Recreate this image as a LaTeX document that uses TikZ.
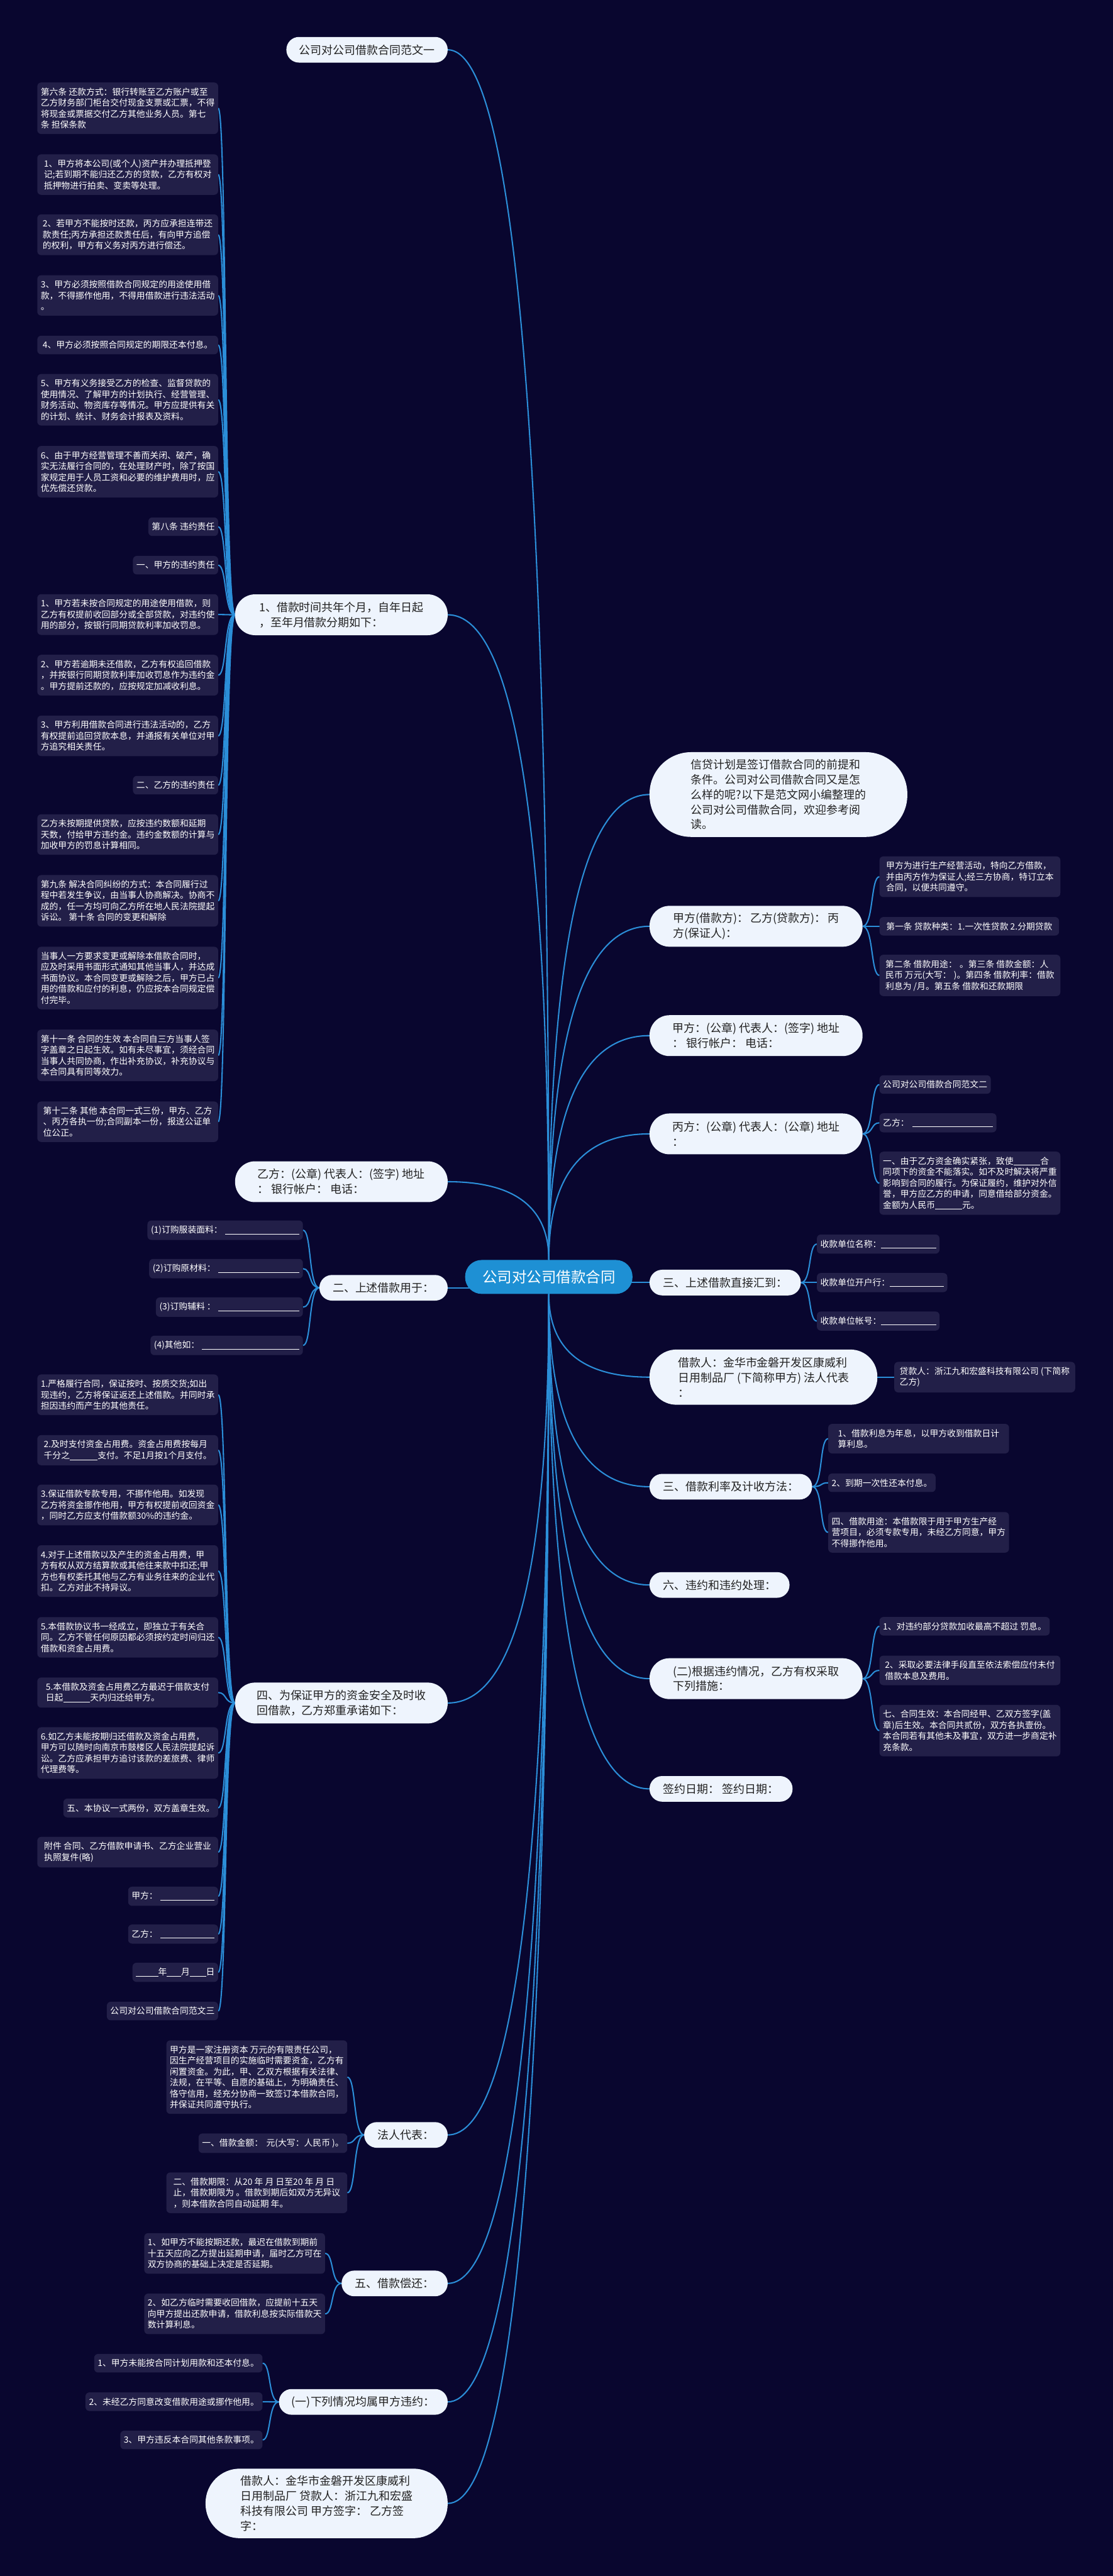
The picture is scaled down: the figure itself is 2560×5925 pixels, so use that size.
\documentclass[tikz,border=0pt]{standalone}
\usepackage{fontspec}
\setmainfont{Noto Sans CJK SC}
\usetikzlibrary{calc}
\pgfdeclarelayer{bg}
\pgfsetlayers{bg,main}
\definecolor{bgc}{RGB}{9,6,47}
\definecolor{leaff}{RGB}{34,31,72}
\definecolor{brf}{RGB}{238,244,253}
\definecolor{hubf}{RGB}{30,144,212}
\definecolor{linec}{RGB}{43,142,216}
\definecolor{brtext}{RGB}{34,34,34}
\newcommand\myblank[1]{\rule[-3pt]{#1pt}{1.4pt}}
\newcommand\hubconn[2]{\draw[conn] (#1) .. controls ($(#1)!0.667!(#1 |- #2)$) and ($(#2)!0.667!(#1 |- #2)$) .. (#2);}
\newcommand\lconn[2]{\draw[conn] (#1.west) .. controls +(-25,0) and +(20,0) .. (#2.east);}
\newcommand\rconn[2]{\draw[conn] (#1.east) .. controls +(25,0) and +(-20,0) .. (#2.west);}
\tikzset{
  leaf/.style={fill=leaff, rounded corners=9pt, text=white, font=\fontsize{20}{25.3}\selectfont, inner xsep=8pt, inner ysep=12pt, align=left},
  lw/.style={minimum width=416pt},
  br/.style={fill=brf, text=brtext, font=\fontsize{26}{34.5}\selectfont, inner xsep=20pt, inner ysep=16pt, align=left},
  bA/.style={br, rounded corners=29pt, minimum height=59pt},
  bB/.style={br, rounded corners=46pt, minimum height=94pt},
  bC/.style={br, rounded corners=62pt, minimum height=127pt},
  bD/.style={br, rounded corners=79pt, minimum height=160pt},
  bE/.style={br, rounded corners=96pt, minimum height=195pt},
  hub/.style={fill=hubf, text=white, font=\fontsize{34}{40}\selectfont, minimum width=385pt, minimum height=78pt, rounded corners=38pt, inner sep=0pt},
  conn/.style={draw=linec, line width=3pt},
}
\begin{document}
\begin{tikzpicture}[x=1pt,y=-1pt]
\useasboundingbox (0,0) rectangle (2560,5925);
% center
\node[hub] (c) at (1262.5,2937) {公司对公司借款合同};
% left branches
\node[bA, minimum width=371pt, anchor=east] (T) at (1030,114.5) {公司对公司借款合同范文一};
\node[bB, minimum width=489pt, anchor=east] (B1) at (1030,1414) {1、借款时间共年个月，自年日起\\，至年月借款分期如下：};
\node[bB, minimum width=489pt, anchor=east] (B2) at (1030,2718) {乙方：(公章) 代表人：(签字) 地址\\： 银行帐户： 电话：};
\node[bA, minimum width=295pt, anchor=east] (B3) at (1030,2962) {二、上述借款用于：};
\node[bB, minimum width=489pt, anchor=east] (B4) at (1030,3917) {四、为保证甲方的资金安全及时收\\回借款，乙方郑重承诺如下：};
\node[bA, minimum width=192pt, anchor=east] (B5) at (1030,4910.5) {法人代表：};
\node[bA, minimum width=244pt, anchor=east] (B6) at (1030,5252) {五、借款偿还：};
\node[bA, minimum width=388pt, anchor=east] (B7) at (1030,5524.5) {(一)下列情况均属甲方违约：};
\node[bD, minimum width=557pt, anchor=east] (B8) at (1030,5758) {借款人：金华市金磐开发区康威利\\日用制品厂 贷款人：浙江九和宏盛\\科技有限公司 甲方签字： 乙方签\\字：};
% right branches
\node[bE, minimum width=593pt, anchor=west] (R1) at (1494,1827.5) {信贷计划是签订借款合同的前提和\\条件。公司对公司借款合同又是怎\\么样的呢?以下是范文网小编整理的\\公司对公司借款合同，欢迎参考阅\\读。};
\node[bB, minimum width=490pt, anchor=west] (R2) at (1494,2130.5) {甲方(借款方)：\hspace{4pt}乙方(贷款方)：\hspace{4pt}丙\\方(保证人)：};
\node[bB, minimum width=490pt, anchor=west] (R3) at (1494,2382) {甲方：(公章) 代表人：(签字) 地址\\： 银行帐户： 电话：};
\node[bB, minimum width=490pt, anchor=west] (R4) at (1494,2608) {丙方：(公章) 代表人：(公章) 地址\\：};
\node[bA, minimum width=348pt, anchor=west] (R5) at (1494,2950) {三、上述借款直接汇到：};
\node[bC, minimum width=524pt, anchor=west] (R6) at (1494,3167.5) {借款人：金华市金磐开发区康威利\\日用制品厂 (下简称甲方) 法人代表\\：};
\node[bA, minimum width=374pt, anchor=west] (R7) at (1494,3419.5) {三、借款利率及计收方法：};
\node[bA, minimum width=322pt, anchor=west] (R8) at (1494,3645.5) {六、违约和违约处理：};
\node[bB, minimum width=490pt, anchor=west] (R9) at (1494,3861) {(二)根据违约情况，乙方有权采取\\下列措施：};
\node[bA, minimum width=329pt, anchor=west] (R10) at (1494,4114.5) {签约日期：\hspace{6pt}签约日期：};
% leaves of B1
\begin{scope}[every node/.style={leaf, anchor=east}]
\node[lw] (L1) at (502,249) {第六条 还款方式：银行转账至乙方账户或至\\乙方财务部门柜台交付现金支票或汇票，不得\\将现金或票据交付乙方其他业务人员。第七\\条 担保条款};
\node[lw] (L2) at (502,401.5) {1、甲方将本公司(或个人)资产并办理抵押登\\记;若到期不能归还乙方的贷款，乙方有权对\\抵押物进行拍卖、变卖等处理。};
\node[lw] (L3) at (502,540) {2、若甲方不能按时还款，丙方应承担连带还\\款责任;丙方承担还款责任后，有向甲方追偿\\的权利，甲方有义务对丙方进行偿还。};
\node[lw] (L4) at (502,679.5) {3、甲方必须按照借款合同规定的用途使用借\\款，不得挪作他用，不得用借款进行违法活动\\。};
\node[lw] (L5) at (502,793.5) {4、甲方必须按照合同规定的期限还本付息。};
\node[lw] (L6) at (502,919.5) {5、甲方有义务接受乙方的检查、监督贷款的\\使用情况、了解甲方的计划执行、经营管理、\\财务活动、物资库存等情况。甲方应提供有关\\的计划、统计、财务会计报表及资料。};
\node[lw] (L7) at (502,1085) {6、由于甲方经营管理不善而关闭、破产，确\\实无法履行合同的，在处理财产时，除了按国\\家规定用于人员工资和必要的维护费用时，应\\优先偿还贷款。};
\node (L8) at (502,1211.5) {第八条 违约责任};
\node (L9) at (502,1300) {一、甲方的违约责任};
\node[lw] (L10) at (502,1413.5) {1、甲方若未按合同规定的用途使用借款，则\\乙方有权提前收回部分或全部贷款，对违约使\\用的部分，按银行同期贷款利率加收罚息。};
\node[lw] (L11) at (502,1553) {2、甲方若逾期未还借款，乙方有权追回借款\\，并按银行同期贷款利率加收罚息作为违约金\\。甲方提前还款的，应按规定加减收利息。};
\node[lw] (L12) at (502,1692.5) {3、甲方利用借款合同进行违法活动的，乙方\\有权提前追回贷款本息，并通报有关单位对甲\\方追究相关责任。};
\node (L13) at (502,1806) {二、乙方的违约责任};
\node[lw] (L14) at (502,1919.5) {乙方未按期提供贷款，应按违约数额和延期\\天数，付给甲方违约金。违约金数额的计算与\\加收甲方的罚息计算相同。};
\node[lw] (L15) at (502,2072) {第九条 解决合同纠纷的方式：本合同履行过\\程中若发生争议，由当事人协商解决。协商不\\成的，任一方均可向乙方所在地人民法院提起\\诉讼。 第十条 合同的变更和解除};
\node[lw] (L16) at (502,2249.5) {当事人一方要求变更或解除本借款合同时，\\应及时采用书面形式通知其他当事人，并达成\\书面协议。本合同变更或解除之后，甲方已占\\用的借款和应付的利息，仍应按本合同规定偿\\付完毕。};
\node[lw] (L17) at (502,2427.5) {第十一条 合同的生效 本合同自三方当事人签\\字盖章之日起生效。如有未尽事宜，须经合同\\当事人共同协商，作出补充协议，补充协议与\\本合同具有同等效力。};
\node[lw] (L18) at (502,2580) {第十二条 其他 本合同一式三份，甲方、乙方\\、丙方各执一份;合同副本一份，报送公证单\\位公正。};
% B3 leaves
\node (K1) at (697,2829.5) {(1)订购服装面料：\hspace{6pt}\myblank{171}};
\node (K2) at (697,2918) {(2)订购原材料：\hspace{6pt}\myblank{187}};
\node (K3) at (697,3006.5) {(3)订购辅料 ：\hspace{6pt}\myblank{187}};
\node (K4) at (697,3094.5) {(4)其他如：\hspace{6pt}\myblank{224}};
% B4 leaves
\node[lw] (M1) at (502,3208) {1.严格履行合同，保证按时、按质交货;如出\\现违约，乙方将保证返还上述借款。并同时承\\担因违约而产生的其他责任。};
\node[lw] (M2) at (502,3335.5) {2.及时支付资金占用费。资金占用费按每月\\千分之\myblank{64}支付。不足1月按1个月支付。};
\node[lw] (M3) at (502,3461.5) {3.保证借款专款专用，不挪作他用。如发现\\乙方将资金挪作他用，甲方有权提前收回资金\\，同时乙方应支付借款额30\%的违约金。};
\node[lw] (M4) at (502,3613.5) {4.对于上述借款以及产生的资金占用费，甲\\方有权从双方结算款或其他往来款中扣还;甲\\方也有权委托其他与乙方有业务往来的企业代\\扣。乙方对此不持异议。};
\node[lw] (M5) at (502,3766) {5.本借款协议书一经成立，即独立于有关合\\同。乙方不管任何原因都必须按约定时间归还\\借款和资金占用费。};
\node[lw] (M6) at (502,3893) {5.本借款及资金占用费乙方最迟于借款支付\\日起\myblank{62}天内归还给甲方。};
\node[lw] (M7) at (502,4032) {6.如乙方未能按期归还借款及资金占用费，\\甲方可以随时向南京市鼓楼区人民法院提起诉\\讼。乙方应承担甲方追讨该款的差旅费、律师\\代理费等。};
\node (M8) at (502,4158.5) {五、本协议一式两份，双方盖章生效。};
\node[lw] (M9) at (502,4260) {附件 合同、乙方借款申请书、乙方企业营业\\执照复件(略)};
\node (M10) at (502,4361.5) {甲方：\hspace{6pt}\myblank{125}};
\node (M11) at (502,4448.5) {乙方：\hspace{6pt}\myblank{125}};
\node (M12) at (502,4536.5) {\myblank{51}年\myblank{33}月\myblank{37}日};
\node (M13) at (502,4625.5) {公司对公司借款合同范文三};
% B5 leaves
\node[lw] (N1) at (799,4777.5) {甲方是一家注册资本 万元的有限责任公司，\\因生产经营项目的实施临时需要资金，乙方有\\闲置资金。为此，甲、乙双方根据有关法律、\\法规，在平等、自愿的基础上，为明确责任、\\恪守信用，经充分协商一致签订本借款合同，\\并保证共同遵守执行。};
\node (N2) at (799,4929.5) {一、借款金额：\hspace{8pt}元(大写：人民币 )。};
\node[lw] (N3) at (799,5043.5) {二、借款期限：从20 年 月 日至20 年 月 日\\止，借款期限为 。借款到期后如双方无异议\\，则本借款合同自动延期 年。};
% B6 leaves
\node[lw] (P1) at (748,5183) {1、如甲方不能按期还款，最迟在借款到期前\\十五天应向乙方提出延期申请，届时乙方可在\\双方协商的基础上决定是否延期。};
\node[lw] (P2) at (748,5322) {2、如乙方临时需要收回借款，应提前十五天\\向甲方提出还款申请，借款利息按实际借款天\\数计算利息。};
% B7 leaves
\node (Q1) at (604,5435.5) {1、甲方未能按合同计划用款和还本付息。};
\node (Q2) at (604,5524) {2、未经乙方同意改变借款用途或挪作他用。};
\node (Q3) at (604,5612) {3、甲方违反本合同其他条款事项。};
\end{scope}
% right leaves
\begin{scope}[every node/.style={leaf, anchor=west}]
\node[lw] (R2a) at (2023,2016.5) {甲方为进行生产经营活动，特向乙方借款，\\并由丙方作为保证人;经三方协商，特订立本\\合同，以便共同遵守。};
\node[minimum width=413pt] (R2b) at (2023,2130.5) {第一条 贷款种类：1.一次性贷款 2.分期贷款};
\node[lw] (R2c) at (2023,2243.5) {第二条 借款用途：\hspace{6pt}。第三条 借款金额：人\\民币 万元(大写：\hspace{6pt})。第四条 借款利率：借款\\利息为 /月。第五条 借款和还款期限};
\node (R4a) at (2023,2494.5) {公司对公司借款合同范文二};
\node (R4b) at (2023,2582.5) {乙方：\hspace{8pt}\myblank{185}};
\node[lw] (R4c) at (2023,2721.5) {一、由于乙方资金确实紧张，致使\myblank{62}合\\同项下的资金不能落实。如不及时解决将严重\\影响到合同的履行。为保证履约，维护对外信\\誉，甲方应乙方的申请，同意借给部分资金。\\金额为人民币\myblank{62}元。};
\node (R5a) at (1879,2861.5) {收款单位名称：\myblank{126}};
\node (R5b) at (1879,2950) {收款单位开户行：\myblank{124}};
\node (R5c) at (1879,3038.5) {收款单位帐号：\myblank{126}};
\node[lw] (R6a) at (2057,3167.5) {贷款人：浙江九和宏盛科技有限公司 (下简称\\乙方)};
\node[lw] (R7a) at (1905,3309) {1、借款利息为年息，以甲方收到借款日计\\算利息。};
\node (R7b) at (1905,3410.5) {2、到期一次性还本付息。};
\node[lw] (R7c) at (1905,3524.5) {四、借款用途：本借款限于用于甲方生产经\\营项目，必须专款专用，未经乙方同意，甲方\\不得挪作他用。};
\node (R9a) at (2023,3740.5) {1、对违约部分贷款加收最高不超过 罚息。};
\node[lw] (R9b) at (2023,3842) {2、采取必要法律手段直至依法索偿应付未付\\借款本息及费用。};
\node[lw] (R9c) at (2023,3980.5) {七、合同生效：本合同经甲、乙双方签字(盖\\章)后生效。本合同共贰份，双方各执壹份。\\本合同若有其他未及事宜，双方进一步商定补\\充条款。};
\end{scope}
% connectors
\begin{pgfonlayer}{bg}
\fill[bgc] (0,0) rectangle (2560,5925);
\foreach \n in {T,B1,B2} {\hubconn{c.north}{\n.east}}
\foreach \n in {R1,R2,R3,R4} {\hubconn{c.north}{\n.west}}
\foreach \n in {B4,B5,B6,B7,B8} {\hubconn{c.south}{\n.east}}
\foreach \n in {R6,R7,R8,R9,R10} {\hubconn{c.south}{\n.west}}
\draw[conn] (B3.east) -- ($(c.west |- B3.east)+(25,0)$);
\draw[conn] (R5.west) -- ($(c.east |- R5.west)+(-25,0)$);
\foreach \i in {1,...,18} {\lconn{B1}{L\i}}
\foreach \i in {1,...,4} {\lconn{B3}{K\i}}
\foreach \i in {1,...,13} {\lconn{B4}{M\i}}
\foreach \i in {1,...,3} {\lconn{B5}{N\i}}
\foreach \i in {1,2} {\lconn{B6}{P\i}}
\foreach \i in {1,...,3} {\lconn{B7}{Q\i}}
\foreach \i in {a,b,c} {\rconn{R2}{R2\i}}
\foreach \i in {a,b,c} {\rconn{R4}{R4\i}}
\foreach \i in {a,b,c} {\rconn{R5}{R5\i}}
\rconn{R6}{R6a}
\foreach \i in {a,b,c} {\rconn{R7}{R7\i}}
\foreach \i in {a,b,c} {\rconn{R9}{R9\i}}
\end{pgfonlayer}
\end{tikzpicture}
\end{document}
